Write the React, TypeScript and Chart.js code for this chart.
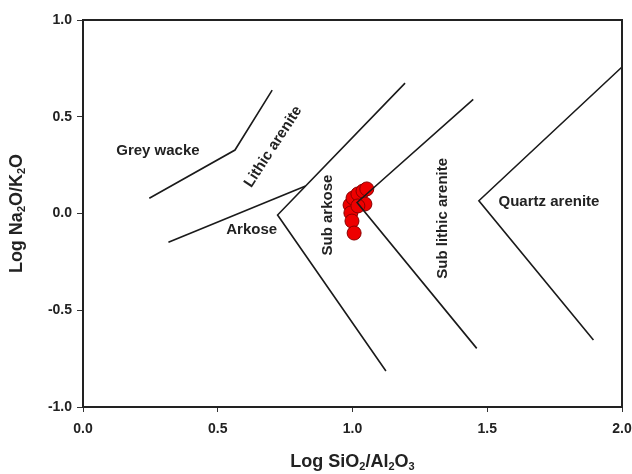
import React, { useEffect, useRef } from "react";
import { Chart, registerables } from "chart.js";

Chart.register(...registerables);

// Sample points (Log SiO2/Al2O3, Log Na2O/K2O)
const sampleX = [0.991, 1.002, 1.020, 1.039, 1.053, 1.046, 0.994, 0.998, 1.006, 1.020];
const sampleY = [0.044, 0.080, 0.101, 0.116, 0.127, 0.049, 0.003, -0.039, -0.101, 0.039];

// Classification boundary lines (x arrays, y arrays)
const greyWackeX = [0.246, 0.564, 0.702];
const greyWackeY = [0.079, 0.328, 0.638];
const arkoseX = [0.317, 0.826];
const arkoseY = [-0.149, 0.142];
const subArkoseX = [1.195, 0.722, 1.124];
const subArkoseY = [0.674, -0.008, -0.814];
const subLithicX = [1.448, 1.017, 1.461];
const subLithicY = [0.590, 0.057, -0.697];
const quartzX = [2.0, 1.469, 1.894];
const quartzY = [0.757, 0.066, -0.654];

// Field labels
const fieldNames = ["Grey wacke", "Lithic arenite", "Arkose", "Sub arkose", "Sub lithic arenite", "Quartz arenite"];
const fieldX = [0.278, 0.706, 0.626, 0.909, 1.337, 1.729];
const fieldY = [0.323, 0.345, -0.085, -0.008, -0.025, 0.061];
const fieldAngle = [0, -57, 0, -90, -90, 0];

// Axes
const xMin = 0, xMax = 2, xStep = 0.5;
const yMin = -1, yMax = 1, yStep = 0.5;
const xTitle = [{ t: "Log SiO" }, { t: "2", sub: true }, { t: "/Al" }, { t: "2", sub: true }, { t: "O" }, { t: "3", sub: true }];
const yTitle = [{ t: "Log Na" }, { t: "2", sub: true }, { t: "O/K" }, { t: "2", sub: true }, { t: "O" }];

const FAMILY = '"Liberation Sans", Arial, sans-serif';
const TEXT = "#222";

const toPts = (xs: number[], ys: number[]) => xs.map((x, i) => ({ x, y: ys[i] }));

function drawRich(ctx: CanvasRenderingContext2D, segs: { t: string; sub?: boolean }[], size: number, cx: number, cy: number, rot: number) {
  const main = `bold ${size}px ${FAMILY}`;
  const small = `bold ${Math.round(size * 0.62)}px ${FAMILY}`;
  let w = 0;
  for (const s of segs) {
    ctx.font = s.sub ? small : main;
    w += ctx.measureText(s.t).width;
  }
  ctx.save();
  ctx.translate(cx, cy);
  ctx.rotate(rot);
  ctx.fillStyle = TEXT;
  ctx.textBaseline = "middle";
  ctx.textAlign = "left";
  let x = -w / 2;
  for (const s of segs) {
    ctx.font = s.sub ? small : main;
    ctx.fillText(s.t, x, s.sub ? size * 0.3 : 0);
    x += ctx.measureText(s.t).width;
  }
  ctx.restore();
}

const decorPlugin = {
  id: "decor",
  beforeDraw(chart: any) {
    const { ctx, width, height } = chart;
    ctx.save();
    ctx.fillStyle = "#ffffff";
    ctx.fillRect(0, 0, width, height);
    ctx.restore();
  },
  afterDraw(chart: any) {
    const { ctx, chartArea: a, scales } = chart;
    const xs = scales.x, ys = scales.y;
    // frame top & right
    ctx.save();
    ctx.strokeStyle = "#222";
    ctx.lineWidth = 2;
    ctx.beginPath();
    ctx.moveTo(a.left, a.top);
    ctx.lineTo(a.right, a.top);
    ctx.lineTo(a.right, a.bottom);
    ctx.stroke();
    ctx.restore();
    // field labels
    ctx.save();
    ctx.fillStyle = TEXT;
    ctx.font = `bold 15px ${FAMILY}`;
    ctx.textAlign = "center";
    ctx.textBaseline = "middle";
    fieldNames.forEach((name, i) => {
      const px = xs.getPixelForValue(fieldX[i]);
      const py = ys.getPixelForValue(fieldY[i]);
      ctx.save();
      ctx.translate(px, py);
      ctx.rotate((fieldAngle[i] * Math.PI) / 180);
      ctx.fillText(name, 0, 0);
      ctx.restore();
    });
    ctx.restore();
    // axis titles
    drawRich(ctx, xTitle, 18, (a.left + a.right) / 2, 462, 0);
    drawRich(ctx, yTitle, 18, 17, (a.top + a.bottom) / 2, -Math.PI / 2);
  },
};

const lineDs = (xs: number[], ys: number[]) => ({
  type: "scatter" as const,
  data: toPts(xs, ys),
  showLine: true,
  borderColor: "#1a1a1a",
  borderWidth: 1.6,
  pointRadius: 0,
  fill: false,
  tension: 0,
});

export default function App() {
  const ref = useRef<HTMLCanvasElement>(null);
  useEffect(() => {
    if (!ref.current) return;
    const chart = new Chart(ref.current, {
      type: "scatter",
      data: {
        datasets: [
          lineDs(greyWackeX, greyWackeY),
          lineDs(arkoseX, arkoseY),
          lineDs(subArkoseX, subArkoseY),
          lineDs(subLithicX, subLithicY),
          lineDs(quartzX, quartzY),
          {
            type: "scatter",
            data: toPts(sampleX, sampleY),
            pointRadius: 7,
            pointBackgroundColor: "#ee0000",
            pointBorderColor: "#8a0000",
            pointBorderWidth: 1,
            showLine: false,
          },
        ],
      },
      options: {
        responsive: false,
        animation: false,
        events: [],
        layout: { padding: { top: 20, right: 10, left: 0, bottom: 0 } },
        plugins: { legend: { display: false }, tooltip: { enabled: false } },
        scales: {
          x: {
            type: "linear",
            min: xMin,
            max: xMax,
            afterFit: (s: any) => { s.height = 67; s.paddingLeft = 0; s.paddingRight = 0; },
            grid: { display: true, drawOnChartArea: false, drawTicks: true, tickLength: 5, color: "#333", lineWidth: 1 },
            border: { display: true, color: "#222", width: 2 },
            ticks: {
              stepSize: xStep,
              padding: 9,
              color: TEXT,
              font: { family: FAMILY, size: 14, weight: "bold" },
              callback: (v: any) => Number(v).toFixed(1),
              maxRotation: 0,
            },
          },
          y: {
            type: "linear",
            min: yMin,
            max: yMax,
            afterFit: (s: any) => { s.width = 83; s.paddingTop = 0; s.paddingBottom = 0; },
            grid: { display: true, drawOnChartArea: false, drawTicks: true, tickLength: 6, color: "#333", lineWidth: 1 },
            border: { display: true, color: "#222", width: 2 },
            ticks: {
              stepSize: yStep,
              padding: 5,
              color: TEXT,
              font: { family: FAMILY, size: 14, weight: "bold" },
              callback: (v: any) => Number(v).toFixed(1),
            },
          },
        },
      },
      plugins: [decorPlugin],
    } as any);
    return () => chart.destroy();
  }, []);
  return (
    <div style={{ position: "fixed", left: 0, top: 0, width: 632, height: 474, background: "#fff" }}>
      <canvas ref={ref} width={632} height={474} style={{ display: "block", width: 632, height: 474 }} />
    </div>
  );
}
